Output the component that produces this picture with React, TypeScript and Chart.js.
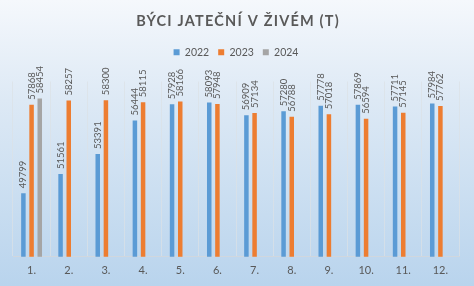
import React, { useEffect, useRef } from "react";
import { Chart, registerables } from "chart.js";

Chart.register(...registerables);

const months = ["1.", "2.", "3.", "4.", "5.", "6.", "7.", "8.", "9.", "10.", "11.", "12."];
const values2022 = [49799, 51561, 53391, 56444, 57928, 58093, 56909, 57280, 57778, 57869, 57711, 57984];
const values2023 = [57868, 58257, 58300, 58115, 58166, 57948, 57134, 56788, 57018, 56594, 57145, 57762];
const values2024 = [58454, null, null, null, null, null, null, null, null, null, null, null];
const seriesNames = ["2022", "2023", "2024"];
const titleText = "BÝCI JATEČNÍ V ŽIVÉM (T)";

const FONT = "Lato, 'Open Sans', sans-serif";
const TEXT = "#595959";

const bgPlugin = {
  id: "bgGradient",
  afterInit(chart: any) {
    const lg = chart.legend;
    if (lg && !lg.__patched) {
      const orig = lg.fit;
      lg.fit = function () {
        orig.call(this);
        this.height += 14;
      };
      lg.__patched = true;
    }
  },
  beforeDraw(chart: any) {
    const { ctx, width, height } = chart;
    ctx.save();
    const g = ctx.createLinearGradient(0, 0, 0, height);
    g.addColorStop(0, "#f5f8fc");
    g.addColorStop(0.35, "#dde9f5");
    g.addColorStop(1, "#b9d4ed");
    ctx.fillStyle = g;
    ctx.fillRect(0, 0, width, height);
    ctx.fillStyle = TEXT;
    ctx.font = `bold 14.5px ${FONT}`;
    (ctx as any).letterSpacing = "1.2px";
    ctx.textAlign = "center";
    ctx.textBaseline = "middle";
    ctx.fillText(titleText, width / 2 + 1, 21);
    ctx.restore();
  },
};

const labelPlugin = {
  id: "barLabels",
  afterDatasetsDraw(chart: any) {
    const { ctx } = chart;
    ctx.save();
    ctx.fillStyle = TEXT;
    ctx.font = `9.5px ${FONT}`;
    ctx.textAlign = "left";
    ctx.textBaseline = "middle";
    chart.data.datasets.forEach((ds: any, i: number) => {
      const meta = chart.getDatasetMeta(i);
      meta.data.forEach((bar: any, j: number) => {
        const v = ds.data[j];
        if (v === null || v === undefined) return;
        ctx.save();
        ctx.translate(bar.x, bar.y - 5);
        ctx.rotate(-Math.PI / 2);
        ctx.fillText(String(v), 0, 0);
        ctx.restore();
      });
    });
    ctx.restore();
  },
};

export default function App() {
  const ref = useRef<HTMLCanvasElement | null>(null);
  useEffect(() => {
    document.body.style.margin = "0";
    const canvas = ref.current!;
    const chart = new Chart(canvas, {
      type: "bar",
      data: {
        labels: months,
        datasets: [
          { label: seriesNames[0], data: values2022, backgroundColor: "#5b9bd5" },
          { label: seriesNames[1], data: values2023, backgroundColor: "#ed7d31" },
          { label: seriesNames[2], data: values2024 as any, backgroundColor: "#a5a5a5" },
        ],
      },
      options: {
        responsive: false,
        animation: false,
        layout: { padding: { top: 38, left: 13, right: 15, bottom: 2 } },
        datasets: { bar: { categoryPercentage: 0.66, barPercentage: 0.55 } },
        plugins: {
          title: { display: false },
          tooltip: { enabled: false },
          legend: {
            display: true,
            position: "top",
            labels: {
              boxWidth: 6,
              boxHeight: 6,
              color: TEXT,
              font: { family: FONT, size: 10.5 },
              padding: 9,
            },
          },
        },
        scales: {
          x: {
            grid: { display: true, offset: true, color: "rgba(220,225,230,0.7)", drawTicks: false },
            border: { display: true, color: "rgba(210,215,220,0.9)" },
            ticks: { color: TEXT, font: { family: FONT, size: 11 }, padding: 7 },
          },
          y: {
            display: false,
            min: 44000,
            max: 60000,
          },
        },
      },
      plugins: [bgPlugin, labelPlugin],
    });
    return () => chart.destroy();
  }, []);
  return (
    <div style={{ width: 474, height: 286 }}>
      <canvas ref={ref} width={474} height={286} />
    </div>
  );
}
